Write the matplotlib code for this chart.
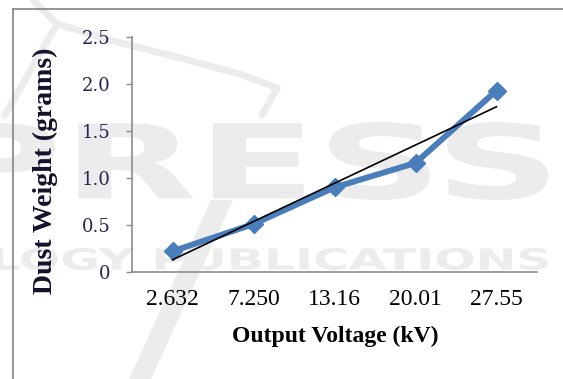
import numpy as np
import matplotlib
matplotlib.use("Agg")
import matplotlib.pyplot as plt
from matplotlib.lines import Line2D
from matplotlib.patches import PathPatch, Polygon
from matplotlib.textpath import TextPath
from matplotlib.font_manager import FontProperties
from matplotlib.transforms import Affine2D

# ── data ──────────────────────────────────────────────
voltage_labels = ["2.632", "7.250", "13.16", "20.01", "27.55"]
dust_weight = [0.22, 0.51, 0.90, 1.16, 1.93]
y_ticks = [0, 0.5, 1.0, 1.5, 2.0, 2.5]
y_tick_labels = ["0", "0.5", "1.0", "1.5", "2.0", "2.5"]

W, H, DPI = 563, 379, 100
fig = plt.figure(figsize=(W / DPI, H / DPI), dpi=DPI)
fig.patch.set_facecolor("white")

GREY_WM = "#ececec"


def px(x, y):
    """pixel (from top-left) -> figure fraction"""
    return x / W, 1 - y / H


def stamp(text, x0, x1, y_top, y_bot):
    tp = TextPath((0, 0), text, size=100,
                  prop=FontProperties(family="DejaVu Sans", weight="bold"))
    bb = tp.get_extents()
    tr = (Affine2D().translate(-bb.x0, -bb.y0)
          .scale((x1 - x0) / bb.width, (y_bot - y_top) / bb.height)
          .translate(x0, H - y_bot))
    fig.add_artist(PathPatch(tp, transform=tr, fc=GREY_WM, ec="none", zorder=-2))


# background stamp
stamp("PRESS", -50, 548, 122, 200)
stamp("LOGY PUBLICATIONS", -6, 548, 248, 270)
slash = [px(211, 200), px(233, 200), px(151, 379), px(129, 379)]
fig.add_artist(Polygon(slash, closed=True, transform=fig.transFigure,
                       fc=GREY_WM, ec="none", zorder=-2))
swoosh_x = [33, 57, 110, 180, 240, 277, 262]
swoosh_y = [0, 24, 40, 58, 74, 88, 115]
fig.add_artist(Line2D([x / W for x in swoosh_x], [1 - y / H for y in swoosh_y],
                      transform=fig.transFigure, color=GREY_WM, lw=5,
                      solid_capstyle="round", zorder=-2))
fig.add_artist(Line2D([57 / W, 5 / W], [1 - 24 / H, 1 - 115 / H],
                      transform=fig.transFigure, color=GREY_WM, lw=5, zorder=-2))

# outer frame (top + left edge)
fig.add_artist(Line2D([12.5 / W, 1.0], [1 - 8.5 / H, 1 - 8.5 / H],
                      transform=fig.transFigure, color="#8c8c8c", lw=1.3))
fig.add_artist(Line2D([12.5 / W, 12.5 / W], [0, 1 - 8.5 / H],
                      transform=fig.transFigure, color="#8c8c8c", lw=1.3))

# ── axes ──────────────────────────────────────────────
ax = fig.add_axes([132 / W, 1 - 272 / H, (537 - 132) / W, (272 - 37) / H])
ax.set_facecolor("none")

x = np.arange(len(voltage_labels))
ax.plot(x, dust_weight, color="#4a7ebb", lw=4.3, marker="D", ms=9,
        solid_joinstyle="miter", zorder=3)

# linear trend line
slope, intercept = np.polyfit(x, dust_weight, 1)
ax.plot([x[0], x[-1]], [intercept + slope * x[0], intercept + slope * x[-1]],
        color="black", lw=1.2, zorder=4)

ax.set_xlim(-0.5, len(voltage_labels) - 0.5)
ax.set_ylim(0, 2.5)
ax.set_xticks(x)
ax.set_xticklabels(voltage_labels, family="Liberation Serif", fontsize=17)
ax.set_yticks(y_ticks)
ax.set_yticklabels(y_tick_labels, family="DejaVu Serif", fontsize=13,
                   color="#2a2352")
ax.tick_params(axis="x", length=0, pad=12)
ax.tick_params(axis="y", length=4.5, width=1, color="#8c8c8c", pad=11)

for side in ("top", "right"):
    ax.spines[side].set_visible(False)
for side in ("left", "bottom"):
    ax.spines[side].set_color("#8c8c8c")
    ax.spines[side].set_linewidth(1.2)

fig.text(*px(335, 336), "Output Voltage (kV)", ha="center", va="center",
         family="Liberation Serif", fontweight="bold", fontsize=17)
fig.text(*px(45, 171), "Dust Weight (grams)", ha="center", va="center",
         rotation=90, family="Liberation Serif", fontweight="bold",
         fontsize=20, color="#14122a")

fig.savefig("out.png", dpi=DPI)
